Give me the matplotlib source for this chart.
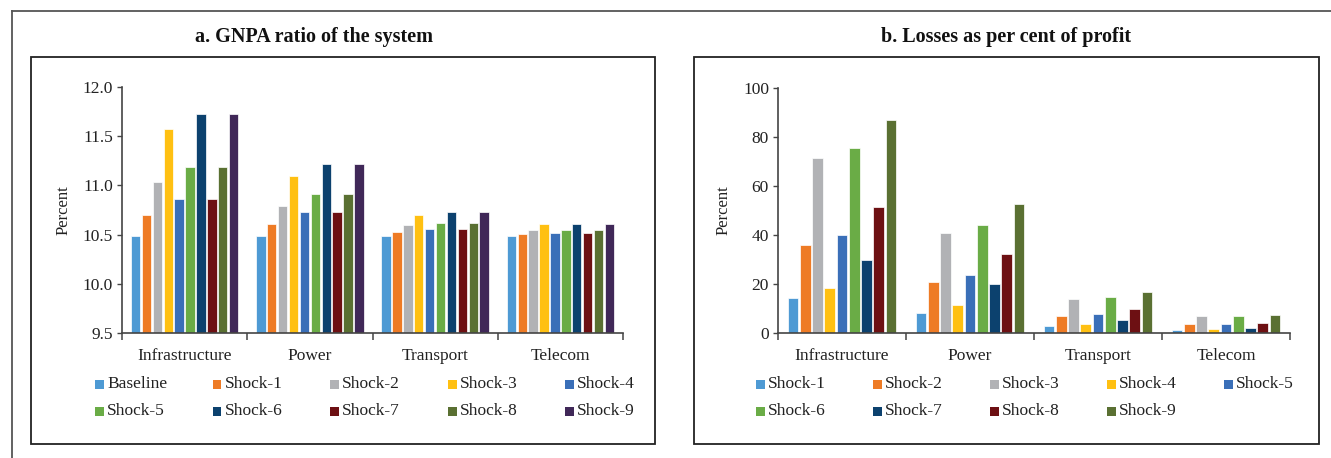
import matplotlib
matplotlib.use("Agg")
import matplotlib.pyplot as plt
from matplotlib.patches import Rectangle
from matplotlib.lines import Line2D
import numpy as np

plt.rcParams['font.family'] = ['Liberation Serif', 'DejaVu Serif']

categories = ["Infrastructure", "Power", "Transport", "Telecom"]

# Panel a: GNPA ratio of the system (percent)
series_a = ["Baseline", "Shock-1", "Shock-2", "Shock-3", "Shock-4",
            "Shock-5", "Shock-6", "Shock-7", "Shock-8", "Shock-9"]
baseline = [10.49, 10.49, 10.49, 10.49]
shock1_a = [10.70, 10.61, 10.53, 10.51]
shock2_a = [11.03, 10.79, 10.60, 10.55]
shock3_a = [11.57, 11.10, 10.70, 10.61]
shock4_a = [10.86, 10.73, 10.56, 10.52]
shock5_a = [11.19, 10.91, 10.62, 10.55]
shock6_a = [11.73, 11.22, 10.73, 10.61]
shock7_a = [10.86, 10.73, 10.56, 10.52]
shock8_a = [11.19, 10.91, 10.62, 10.55]
shock9_a = [11.73, 11.22, 10.73, 10.61]
values_a = [baseline, shock1_a, shock2_a, shock3_a, shock4_a,
            shock5_a, shock6_a, shock7_a, shock8_a, shock9_a]

# Panel b: Losses as per cent of profit
series_b = ["Shock-1", "Shock-2", "Shock-3", "Shock-4", "Shock-5",
            "Shock-6", "Shock-7", "Shock-8", "Shock-9"]
shock1_b = [14.4, 8.2, 2.9, 1.4]
shock2_b = [35.8, 20.7, 7.1, 3.6]
shock3_b = [71.3, 41.0, 14.0, 7.0]
shock4_b = [18.5, 11.4, 3.6, 1.5]
shock5_b = [40.0, 23.8, 7.7, 3.7]
shock6_b = [75.6, 44.2, 14.6, 7.1]
shock7_b = [30.0, 20.1, 5.5, 1.9]
shock8_b = [51.3, 32.4, 9.6, 4.0]
shock9_b = [86.9, 52.8, 16.6, 7.4]
values_b = [shock1_b, shock2_b, shock3_b, shock4_b, shock5_b,
            shock6_b, shock7_b, shock8_b, shock9_b]

colors = ["#4E9AD4", "#EE7B25", "#B1B2B5", "#FFC012", "#3A6FB8",
          "#6AAC46", "#0C416E", "#6D1013", "#5A7032", "#402858"]

W, H = 1331, 458
fig = plt.figure(figsize=(W / 100, H / 100), dpi=100)


def fx(px):
    return px / W


def fy(py):
    return 1 - py / H


# Frames
frame_col = "#555555"
fig.add_artist(Line2D([fx(12), 1.0], [fy(11), fy(11)], color=frame_col, lw=1.3))
fig.add_artist(Line2D([fx(12), fx(12)], [fy(11), 0.0], color=frame_col, lw=1.3))
for (x0, x1) in [(31, 655), (694, 1319)]:
    fig.add_artist(Rectangle((fx(x0), fy(444)), fx(x1 - x0), (444 - 57) / H,
                             fill=False, edgecolor="#222222", lw=1.3))

spine_col = "#444444"


def make_axes(x0, x1, ytop, ybot):
    ax = fig.add_axes([fx(x0), fy(ybot), fx(x1 - x0), (ybot - ytop) / H])
    for s in ["top", "right"]:
        ax.spines[s].set_visible(False)
    for s in ["left", "bottom"]:
        ax.spines[s].set_color(spine_col)
        ax.spines[s].set_linewidth(1.2)
    ax.set_xlim(-0.5, len(categories) - 0.5)
    ax.set_xticks(np.arange(len(categories)))
    ax.set_xticklabels(categories, fontsize=12.5, color="#222222")
    ax.tick_params(axis="x", which="major", length=0, pad=11)
    ax.set_xticks(np.arange(len(categories) + 1) - 0.5, minor=True)
    ax.tick_params(axis="x", which="minor", length=5, width=1.1, color=spine_col, direction="out")
    ax.tick_params(axis="y", length=3.5, width=1.0, color=spine_col, labelsize=12.5,
                   labelcolor="#222222", pad=3)
    ax.set_ylabel("Percent", fontsize=12, color="#222222", labelpad=8)
    return ax


x = np.arange(len(categories))

# Panel a
ax1 = make_axes(122, 623, 87, 333)
n = len(values_a)
step = 0.087
for i, vals in enumerate(values_a):
    ax1.bar(x + (i - (n - 1) / 2) * step, np.array(vals) - 9.5, bottom=9.5,
            width=step * 0.86, color=colors[i], edgecolor="white", linewidth=0.5, zorder=2)
ax1.set_ylim(9.5, 12.0)
ax1.set_yticks([9.5, 10.0, 10.5, 11.0, 11.5, 12.0])
ax1.set_yticklabels(["9.5", "10.0", "10.5", "11.0", "11.5", "12.0"])

# Panel b
ax2 = make_axes(778, 1290, 88, 333)
n = len(values_b)
step = 0.0957
for i, vals in enumerate(values_b):
    ax2.bar(x + (i - (n - 1) / 2) * step, vals,
            width=step * 0.86, color=colors[i], edgecolor="white", linewidth=0.5, zorder=2)
ax2.set_ylim(0, 100)
ax2.set_yticks([0, 20, 40, 60, 80, 100])

# Titles
fig.text(fx(314), fy(37), "a. GNPA ratio of the system", ha="center", va="center",
         fontsize=14.5, fontweight="bold", color="#111111")
fig.text(fx(1006), fy(37), "b. Losses as per cent of profit", ha="center", va="center",
         fontsize=14.5, fontweight="bold", color="#111111")

# Legends (manual grid, row-major)
def draw_legend(names, x_start, col_step):
    for k, name in enumerate(names):
        r, c = divmod(k, 5)
        mx = x_start + c * col_step
        my = 384 + r * 27
        fig.add_artist(Rectangle((fx(mx), fy(my + 4.5)), fx(9), 9 / H,
                                 facecolor=colors[k], edgecolor="none"))
        fig.text(fx(mx + 12), fy(my), name, ha="left", va="center",
                 fontsize=12.5, color="#222222")


draw_legend(series_a, 95, 117.5)
draw_legend(series_b, 756, 117)

fig.savefig("out.png", dpi=100)
